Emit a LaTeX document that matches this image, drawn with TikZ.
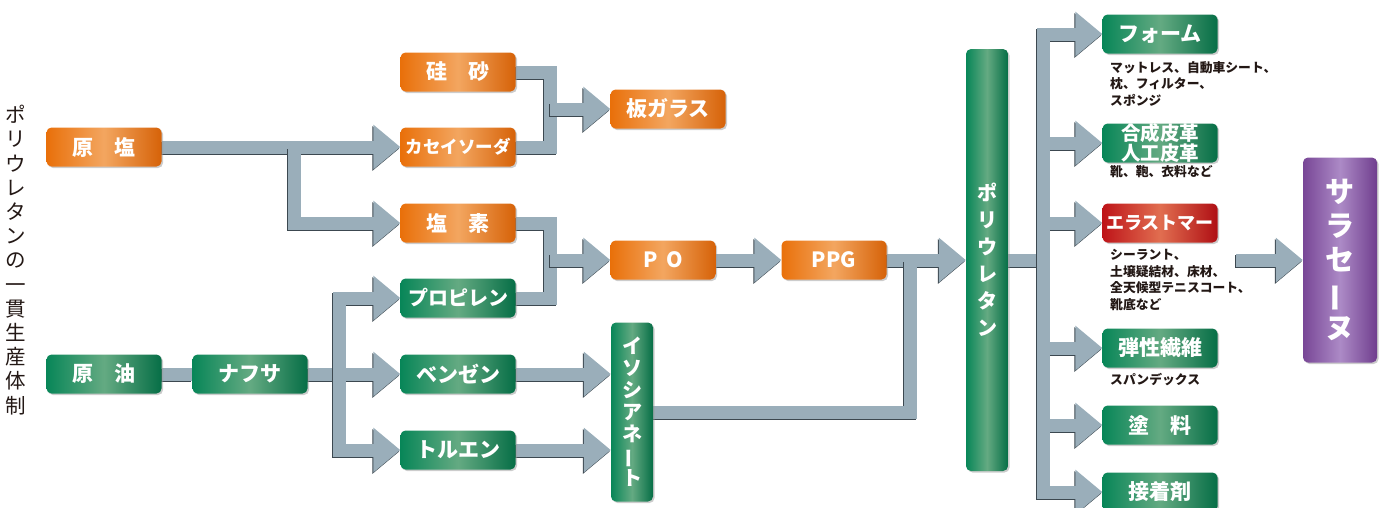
\documentclass[tikz,border=0pt]{standalone}
\usepackage{fontspec}
\newfontfamily\gothic{Noto Sans CJK JP}
\usetikzlibrary{arrows.meta}
\usetikzlibrary{shadows}
\usetikzlibrary{backgrounds}

\definecolor{orL}{RGB}{233,112,10}
\definecolor{orM}{RGB}{243,166,96}
\definecolor{orR}{RGB}{214,98,8}
\definecolor{grL}{RGB}{8,134,88}
\definecolor{grM}{RGB}{100,170,130}
\definecolor{grR}{RGB}{6,110,70}
\definecolor{rdL}{RGB}{190,20,25}
\definecolor{rdM}{RGB}{225,110,80}
\definecolor{rdR}{RGB}{175,15,20}
\definecolor{puL}{RGB}{120,70,150}
\definecolor{puM}{RGB}{172,138,198}
\definecolor{puR}{RGB}{112,62,142}
\definecolor{pipeGray}{RGB}{154,174,186}
\definecolor{pipeDark}{RGB}{60,72,80}
\definecolor{ink}{RGB}{35,24,21}

\tikzset{
  pipebody/.style={draw=pipeGray, line width=13pt},
  pipeshadow/.style={draw=pipeDark, line width=13pt, transform canvas={shift={(-1pt,-1.5pt)}}},
  headed/.style={-{Triangle[length=27pt,width=43pt]}},
  procbox/.style={rounded corners=5pt, minimum width=115pt, minimum height=39pt, inner sep=0pt,
    text=white, align=center, font=\gothic\bfseries\fontsize{21}{24}\selectfont,
    drop shadow={shadow xshift=1.5pt, shadow yshift=-1.5pt, fill=black!40, opacity=.5}},
  orangebox/.style={procbox, left color=orL, right color=orR, middle color=orM},
  greenbox/.style={procbox, left color=grL, right color=grR, middle color=grM},
  redbox/.style={procbox, left color=rdL, right color=rdR, middle color=rdM},
  purplebox/.style={procbox, left color=puL, right color=puR, middle color=puM},
  usenote/.style={anchor=north west, inner sep=0pt, align=left, text=ink,
    font=\gothic\bfseries\fontsize{12.8}{16.5}\selectfont},
}

% shadow first, then the band
\newcommand{\Pipe}[2][]{%
  \draw[pipeshadow,#1] #2;
  \draw[pipebody,#1] #2;}
\newcommand{\tbar}{\rotatebox[origin=c]{90}{ー}}

\begin{document}
\begin{tikzpicture}[x=1pt,y=-1pt]
   \useasboundingbox (0,0) rectangle (1383,507);
   \node[align=center, inner sep=0pt, text=ink, font=\gothic\fontsize{20.5}{24.2}\selectfont] (title) at (16,260)
     {ポ\\リ\\ウ\\レ\\タ\\ン\\の\\一\\貫\\生\\産\\体\\制};
   % raw materials
   \node[orangebox] (genen) at (104,147) {原\hspace{1em}塩};
   \node[greenbox] (genyu) at (104,374) {原\hspace{1em}油};
   \node[greenbox] (naphtha) at (250,374) {ナフサ};
   \node[orangebox] (keisha) at (458,72) {硅\hspace{1em}砂};
   \node[orangebox, font=\gothic\bfseries\fontsize{17.5}{20}\selectfont] (soda) at (458,147) {カセイソーダ};
   \node[orangebox] (enso) at (458,223) {塩\hspace{1em}素};
   \node[greenbox, font=\gothic\bfseries\fontsize{20}{24}\selectfont] (propylene) at (458,298) {プロピレン};
   \node[greenbox] (benzene) at (458,374) {ベンゼン};
   \node[greenbox] (toluene) at (458,450) {トルエン};
   % intermediates
   \node[orangebox] (glass) at (668,109) {板ガラス};
   \node[orangebox, minimum width=105pt] (po) at (663,260) {P\hspace{.4em}O};
   \node[orangebox, minimum width=105pt] (ppg) at (834,260) {PPG};
   \node[greenbox, minimum width=42pt, minimum height=179pt, font=\gothic\bfseries\fontsize{20}{22}\selectfont] (iso) at (632,412)
     {イ\\ソ\\シ\\ア\\ネ\\\tbar\\ト};
   \node[greenbox, minimum width=42pt, minimum height=422pt, font=\gothic\bfseries\fontsize{20}{27}\selectfont] (pu) at (987,260)
     {ポ\\リ\\ウ\\レ\\タ\\ン};
   % products
   \node[greenbox] (foam) at (1160,34) {フォーム};
   \node[greenbox, font=\gothic\bfseries\fontsize{19.5}{18.5}\selectfont] (leather) at (1160,143) {合成皮革\\人工皮革};
   \node[redbox, font=\gothic\bfseries\fontsize{18}{22}\selectfont] (elast) at (1160,223) {エラストマー};
   \node[greenbox] (fiber) at (1160,348) {弾性繊維};
   \node[greenbox] (paint) at (1160,425) {塗\hspace{1em}料};
   \node[greenbox] (adhesive) at (1160,492) {接着剤};
   \node[purplebox, minimum width=74pt, minimum height=205pt, font=\gothic\bfseries\fontsize{29}{34}\selectfont] (sarasenu) at (1340,260)
     {サ\\ラ\\セ\\\tbar\\ヌ};
   \node[usenote] (foamuse) at (1110,61) {マットレス、自動車シート、\\枕、フィルター、\\スポンジ};
   \node[usenote] (leatheruse) at (1110,165) {靴、鞄、衣料など};
   \node[usenote] (elastuse) at (1110,249) {シーラント、\\土壌疑結材、床材、\\全天候型テニスコート、\\靴底など};
   \node[usenote] (fiberuse) at (1110,373) {スパンデックス};
   % junctions
   \coordinate (jsalt) at (294,147);
   \coordinate (jglass) at (550,109);
   \coordinate (jpo) at (550,260);
   \coordinate (jnaph) at (339,374);
   \coordinate (jiso) at (910,260);
   \coordinate (jout) at (1043,260);
   \coordinate (jsara) at (1236,260);
   \begin{scope}[on background layer]
   \Pipe[headed]{(genen.east) -- (soda.west)}
   \Pipe[headed]{(jsalt) |- (enso.west)}
   \Pipe{(keisha.east) -| (jglass)}
   \Pipe{(soda.east) -| (jglass)}
   \Pipe[headed]{(jglass) -- (glass.west)}
   \Pipe{(enso.east) -| (jpo)}
   \Pipe{(propylene.east) -| (jpo)}
   \Pipe[headed]{(jpo) -- (po.west)}
   \Pipe{(genyu.east) -- (naphtha.west)}
   \Pipe[headed]{(naphtha.east) -- (benzene.west)}
   \Pipe[headed]{(jnaph) |- (propylene.west)}
   \Pipe[headed]{(jnaph) |- (toluene.west)}
   \Pipe[headed]{(benzene.east) -- (benzene.east -| iso.west)}
   \Pipe[headed]{(toluene.east) -- (toluene.east -| iso.west)}
   \Pipe[headed]{(po.east) -- (ppg.west)}
   \Pipe[headed]{(ppg.east) -- (ppg.east -| pu.west)}
   \Pipe{(iso.east) -| (jiso)}
   \Pipe{(pu.east) -- (jout)}
   \Pipe[headed]{(jout) |- (foam.west)}
   \Pipe[headed]{(jout) |- (leather.west)}
   \Pipe[headed]{(jout) |- (elast.west)}
   \Pipe[headed]{(jout) |- (fiber.west)}
   \Pipe[headed]{(jout) |- (paint.west)}
   \Pipe[headed]{(jout) |- (adhesive.west)}
   \Pipe[headed]{(jsara) -- (sarasenu.west)}
   \end{scope}
\end{tikzpicture}
\end{document}
